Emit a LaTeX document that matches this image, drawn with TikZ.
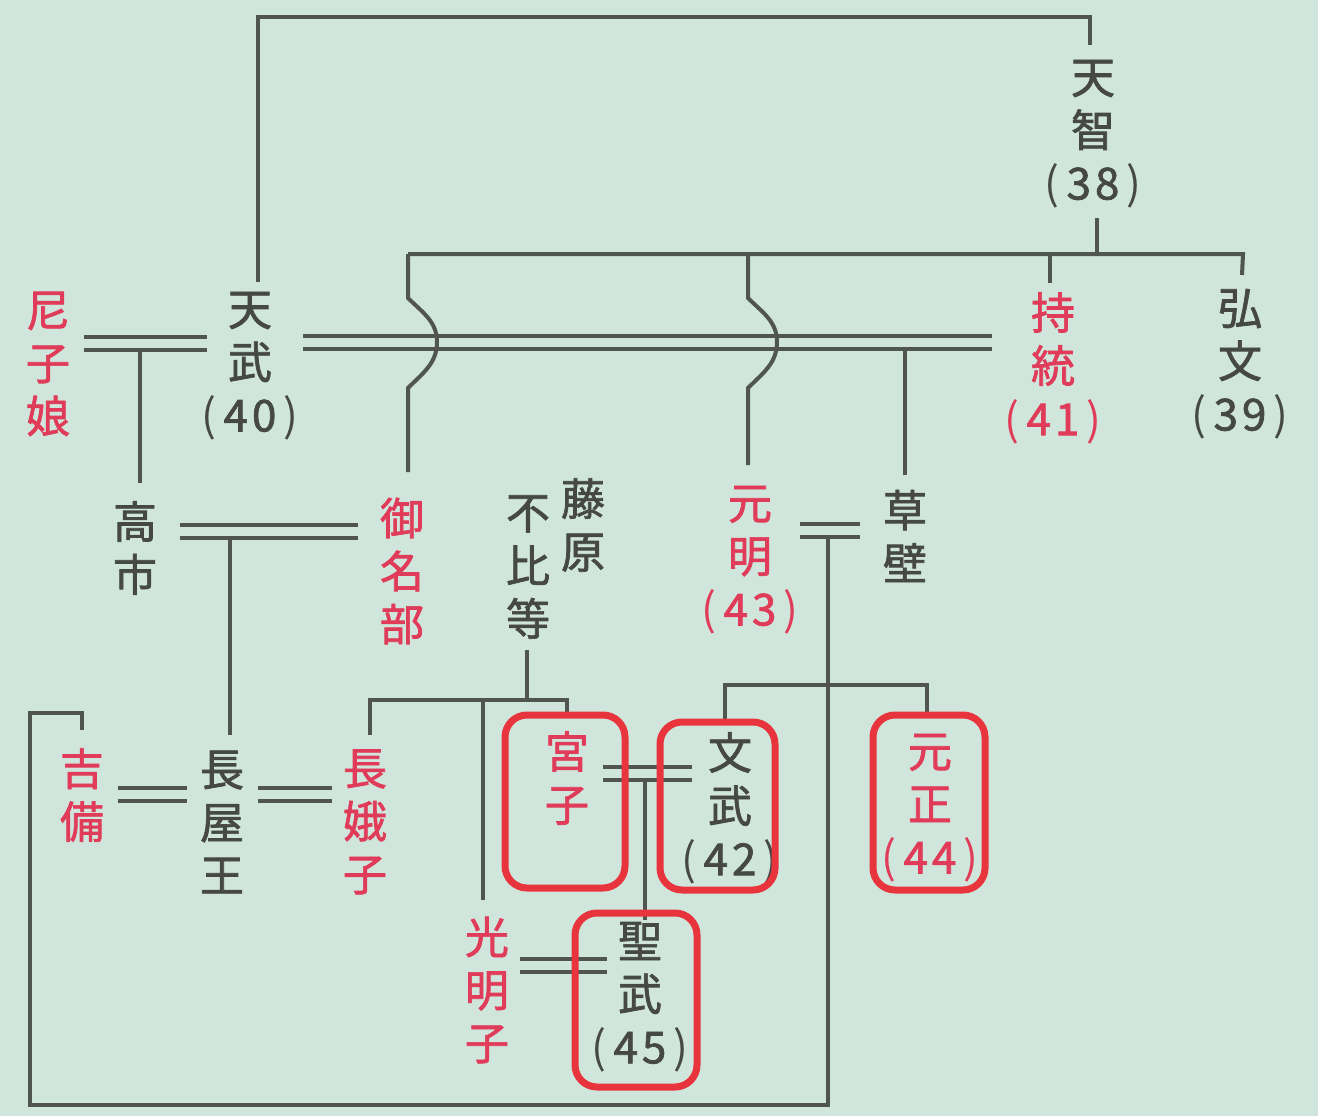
\documentclass[tikz,border=0pt]{standalone}
\usepackage{fontspec}
\setmainfont{Noto Sans CJK JP}
\newfontfamily\hv{Noto Sans CJK JP}[FakeBold=1.6]
\definecolor{bgc}{HTML}{D0E6DC}
\definecolor{lcol}{HTML}{50554F}
\definecolor{gtext}{HTML}{454845}
\definecolor{rtext}{HTML}{E03C5A}
\definecolor{boxc}{HTML}{E8343C}
\newcommand\rno[2]{{\normalfont\fontsize{44}{53}\selectfont(}\kern7pt#1\kern4pt#2\kern7pt{\normalfont\fontsize{44}{53}\selectfont)}}
\begin{document}
\begin{tikzpicture}[x=1pt,y=-1pt,
  nm/.style={inner sep=0pt, align=center, font=\hv\fontsize{44}{53}\selectfont, text=gtext},
  rd/.style={nm, text=rtext},
  ln/.style={draw=lcol, line width=4pt},
  marry/.style={draw=lcol, line width=4pt, double=bgc, double distance=9pt},
  hbox/.style={draw=boxc, line width=7pt, rounded corners=22pt}]
\fill[bgc] (0,0) rectangle (1318,1116);
\useasboundingbox (0,0) rectangle (1318,1116);

% names
\node[nm] (tenji) at (1093,134) {天\\智\\\rno38};
\node[nm] (temmu) at (250,366) {天\\武\\\rno40};
\node[rd] (jito) at (1053,368) {持\\統\\\rno41};
\node[nm] (kobun) at (1240,364) {弘\\文\\\rno39};
\node[rd] (amako) at (48,364) {尼\\子\\娘};
\node[nm] (takechi) at (135,548) {高\\市};
\node[rd] (minabe) at (402,571) {御\\名\\部};
\node[nm] (fuji1) at (583,525) {藤\\原};
\node[nm] (fuji2) at (528,567) {不\\比\\等};
\node[rd] (gemmei) at (750,560) {元\\明\\\rno43};
\node[nm] (kusakabe) at (905,536) {草\\壁};
\node[rd] (kibi) at (82,795) {吉\\備};
\node[nm] (nagaya) at (222,822) {長\\屋\\王};
\node[rd] (nagako) at (365,822) {長\\娥\\子};
\node[rd] (miyako) at (567,778) {宮\\子};
\node[nm] (mommu) at (730,808) {文\\武\\\rno42};
\node[rd] (gensho) at (930,808) {元\\正\\\rno44};
\node[rd] (komyo) at (487,990) {光\\明\\子};
\node[nm] (shomu) at (640,997) {聖\\武\\\rno45};

% junction coordinates
\coordinate (tmTop) at (258,282);
\coordinate (tjTop) at (1090,45);
\coordinate (tjBot) at (1097,218);
\coordinate (tjBar) at (1097,254);
\coordinate (barL) at (408,254);
\coordinate (barM) at (748,254);
\coordinate (jiTop) at (1050,283);
\coordinate (koTop) at (1242,275);
\coordinate (mnTop) at (408,472);
\coordinate (gmTop) at (748,465);
\coordinate (tmR1) at (303,342);
\coordinate (tmR2) at (992,342);
\coordinate (tmL1) at (84,343);
\coordinate (tmL2) at (207,343);
\coordinate (tkTop) at (140,483);
\coordinate (ksTop) at (905,475);
\coordinate (tmL) at (180,531);
\coordinate (tmRr) at (358,531);
\coordinate (nyTop) at (230,735);
\coordinate (gkL) at (800,530);
\coordinate (gkR) at (860,530);
\coordinate (loopB) at (828,1105);
\coordinate (kbTop) at (82,730);
\coordinate (mmTop) at (725,722);
\coordinate (gsTop) at (927,715);
\coordinate (fjBot) at (527,650);
\coordinate (ngTop) at (370,735);
\coordinate (myTop) at (567,715);
\coordinate (kmTop) at (483,900);
\coordinate (shTop) at (645,920);

% marriages (double lines)
\draw[marry] (tmL1) -- (tmL2);
\draw[marry] (tmR1) -- (tmR2);
\draw[marry] (tmL) -- (tmRr);
\draw[marry] (gkL) -- (gkR);
\draw[marry] (118,794) coordinate (kbR) -- (187,794) coordinate (nyL);
\draw[marry] (258,794) coordinate (nyR) -- (332,794) coordinate (ngL);
\draw[marry] (603,773) coordinate (myR) -- (692,773) coordinate (mmL);
\draw[marry] (520,965) coordinate (kmR) -- (607,965) coordinate (shL);

% descent lines
\draw[ln] (tmTop) -- (258,17) -- (1090,17) -- (tjTop);
\draw[ln] (tjBot) -- (tjBar);
\draw[ln] (barL) -- (1243,254) -- (koTop);
\draw[ln] (jiTop) -- (1050,254);
\draw[ln] (barL) -- (408,298) to[out=-45,in=90] (437,342) to[out=-90,in=45] (408,388) -- (mnTop);
\draw[ln] (barM) -- (748,298) to[out=-45,in=90] (777,342) to[out=-90,in=45] (748,388) -- (gmTop);
\draw[ln] (140,349) -- (tkTop);
\draw[ln] (905,349) -- (ksTop);
\draw[ln] (230,537) -- (nyTop);
\draw[ln] (828,537) -- (loopB) -- (30,1105) -- (30,713) -- (82,713) -- (kbTop);
\draw[ln] (mmTop) -- (725,685) -- (927,685) -- (gsTop);
\draw[ln] (fjBot) -- (527,700);
\draw[ln] (ngTop) -- (370,700) -- (567,700) -- (myTop);
\draw[ln] (483,700) -- (kmTop);
\draw[ln] (645,780) -- (shTop);

% highlight boxes
\draw[hbox] (505,715) rectangle (625,888);
\draw[hbox] (660,722) rectangle (775,890);
\draw[hbox] (873,715) rectangle (985,890);
\draw[hbox] (575,913) rectangle (697,1087);
\end{tikzpicture}
\end{document}
